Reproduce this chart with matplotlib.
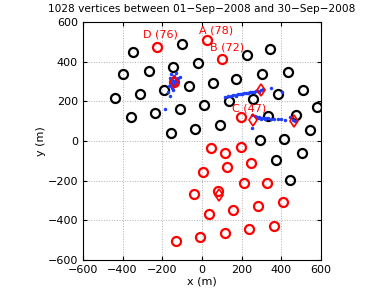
import matplotlib
matplotlib.use('Agg')
import matplotlib.pyplot as plt

# black vertices
bx = [-99, -350, 341, 229, -22, -145, -269, -397, 434, 304, 173, 54, -67, -190, -314, -439,
      511, 385, 259, 135, 580, 12, -112, -235, -360, 474, 333, 92, -34, -158, 546, 413, 294,
      504, 375, 444]
by = [491, 450, 464, 434, 395, 375, 355, 336, 351, 336, 314, 294, 276, 257, 239, 217,
      257, 239, 210, 202, 170, 180, 160, 140, 120, 131, 126, 81, 61, 42, 57, 12, 7,
      -61, -94, -198]

# red vertices
rx = [24, -227, 102, 197, -143, 47, 195, 114, 249, 126, 3, 210, 329, 82, -42, 407, 284, 158,
      35, 363, 239, 114, -9, -133]
ry = [511, 473, 414, 124, 298, -37, -32, -62, -113, -133, -155, -212, -212, -250, -269, -308,
      -329, -348, -368, -427, -445, -465, -484, -504]

# red diamonds
dx = [-143, 299, 257, 462, 84]
dy = [298, 257, 108, 101, -270]

# blue points
px = [-145, -150, -140, -135, -155, -148, -130, -160, -140, -125, -165, -150, -170, -120, -110,
      -131, -155, -145, -160, -187, -135, -152,
      116, 130, 145, 158, 170, 180, 190, 200, 210, 220, 230, 240, 250, 260, 270, 280, 290, 300,
      310, 346, 402, 170, 200, 230, 260, 285,
      251, 265, 275, 285, 295, 305, 315, 325, 335, 350, 365, 385, 400, 420, 444, 460, 470, 254,
      280, 300, 320]
py = [303, 310, 295, 305, 290, 285, 315, 320, 330, 300, 280, 270, 250, 320, 325,
      346, 340, 260, 230, 161, 290, 298,
      223, 225, 229, 232, 234, 236, 238, 240, 242, 244, 245, 247, 249, 250, 252, 254, 255, 257,
      262, 270, 249, 230, 236, 241, 247, 250,
      131, 125, 122, 120, 118, 117, 116, 115, 114, 113, 112, 110, 113, 108, 123, 105, 102, 64,
      115, 113, 112]

labels = ['A (78)', 'B (72)', 'C (47)', 'D (76)']
lx = [72, 126, 237, -207]
ly = [560, 474, 166, 539]

fig = plt.figure(figsize=(3.91, 2.94), dpi=100)
ax = fig.add_axes([0.212, 0.1156, 0.609, 0.809])

ax.plot(bx, by, 'o', mfc='none', mec='black', ms=6.5, mew=1.6, ls='none')
ax.plot(rx, ry, 'o', mfc='none', mec='red', ms=6.5, mew=1.6, ls='none')
ax.plot(px, py, '.', color='#1f3fff', ms=3, ls='none')
ax.plot(dx, dy, 'd', mfc='none', mec='red', ms=6, mew=1.2, ls='none')

for t, x, y in zip(labels, lx, ly):
    ax.text(x, y, t, color='red', fontsize=8, ha='center', va='center')

ax.set_xlim(-600, 600)
ax.set_ylim(-600, 600)
ax.set_xticks(range(-600, 601, 200))
ax.set_yticks(range(-600, 601, 200))
ax.tick_params(direction='in', labelsize=8, length=3, top=True, right=True)
ax.grid(True, ls=':', color='#b0b0b0', lw=0.7)
ax.set_xlabel('x (m)', fontsize=8, labelpad=1)
ax.set_ylabel('y (m)', fontsize=8, labelpad=1)
ax.set_title('1028 vertices between 01\u2212Sep\u22122008 and 30\u2212Sep\u22122008', fontsize=7.6, pad=7)

plt.savefig('out.png', dpi=100)
